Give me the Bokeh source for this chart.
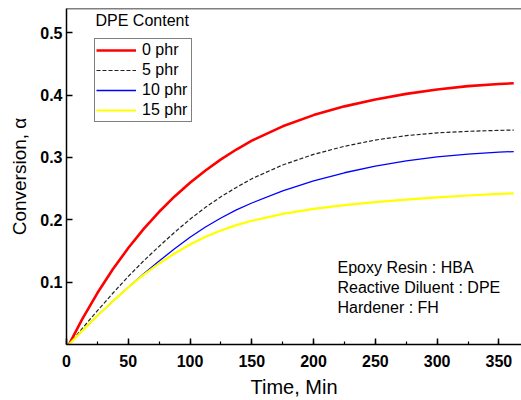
from bokeh.plotting import figure
from bokeh.models import (Range1d, SingleIntervalTicker, FixedTicker, Legend, LegendItem,
                          Label, Span)
from bokeh.embed import file_html
from bokeh.resources import INLINE

# Cure time (min) and degree of conversion for each DPE content
time_min = [2, 12.5, 25, 37.5, 50, 62.5, 75, 87.5, 100, 112.5, 125, 137.5, 150,
            175, 200, 225, 250, 275, 300, 325, 350, 362]
conv_0phr = [0, 0.040, 0.0825, 0.1206, 0.1548, 0.1854, 0.2129, 0.2375, 0.2595, 0.2792, 0.2969,
             0.3128, 0.3270, 0.350, 0.368, 0.382, 0.393, 0.402, 0.409, 0.4145, 0.418, 0.419]
conv_5phr = [0, 0.0252, 0.0542, 0.0822, 0.1092, 0.1342, 0.1575, 0.180, 0.201, 0.220, 0.237,
             0.252, 0.266, 0.288, 0.305, 0.318, 0.328, 0.335, 0.3395, 0.342, 0.3435, 0.344]
conv_10phr = [0, 0.0215, 0.046, 0.0695, 0.092, 0.1135, 0.134, 0.1535, 0.172, 0.1885, 0.203,
              0.216, 0.227, 0.2465, 0.2625, 0.2755, 0.286, 0.2945, 0.301, 0.3055, 0.3085, 0.3095]
conv_15phr = [0, 0.0215, 0.046, 0.0695, 0.0915, 0.112, 0.130, 0.146, 0.1605, 0.173, 0.183,
              0.1915, 0.1985, 0.2095, 0.2175, 0.2235, 0.2285, 0.2325, 0.236, 0.239, 0.2415, 0.2425]

series_labels = ["0 phr", "5 phr", "10 phr", "15 phr"]
y_ticks = [0.1, 0.2, 0.3, 0.4, 0.5]
notes = ["Epoxy Resin : HBA", "Reactive Diluent : DPE", "Hardener : FH"]

FONT = "Liberation Sans"
Y_TOP = 0.539

p = figure(width=521, height=400, output_backend="svg", toolbar_location=None,
           x_range=Range1d(0, 368.3), y_range=Range1d(0, Y_TOP),
           min_border_left=66, min_border_right=0, min_border_top=8, min_border_bottom=51)
p.background_fill_color = "white"
p.border_fill_color = "white"
p.outline_line_color = None
p.xgrid.visible = False
p.ygrid.visible = False

# top edge of the frame
p.add_layout(Span(location=Y_TOP, dimension="width", line_color="black", line_width=1.5))

xa = p.xaxis[0]
xa.ticker = SingleIntervalTicker(interval=50, num_minor_ticks=2)
xa.axis_label = "Time, Min"
ya = p.yaxis[0]
ya.ticker = FixedTicker(ticks=y_ticks)
ya.axis_label = "Conversion, α"

for ax in (xa, ya):
    ax.axis_line_color = "black"
    ax.axis_line_width = 1.5
    ax.major_tick_line_color = "black"
    ax.major_tick_line_width = 1.5
    ax.major_tick_in = 6
    ax.major_tick_out = 0
    ax.minor_tick_line_color = "black"
    ax.minor_tick_line_width = 1.2
    ax.minor_tick_in = 3
    ax.minor_tick_out = 0
    ax.major_label_text_font = FONT
    ax.major_label_text_font_style = "bold"
    ax.major_label_text_font_size = "16px"
    ax.major_label_text_color = "black"
    ax.axis_label_text_font = FONT
    ax.axis_label_text_font_style = "normal"
    ax.axis_label_text_font_size = "20px"
    ax.axis_label_text_color = "black"

ya.minor_tick_line_color = None
ya.major_label_standoff = 4
ya.axis_label_standoff = 7
ya.axis_label_text_font_size = "19px"
xa.major_label_standoff = 10
xa.axis_label_standoff = 6

r0 = p.line(time_min, conv_0phr, line_color="#ff0000", line_width=2.6)
r5 = p.line(time_min, conv_5phr, line_color="#222222", line_width=1.2, line_dash="4 2")
r10 = p.line(time_min, conv_10phr, line_color="#0000ff", line_width=1.3)
r15 = p.line(time_min, conv_15phr, line_color="#ffff00", line_width=2.2)

legend = Legend(items=[LegendItem(label=lab, renderers=[r]) for lab, r in
                       zip(series_labels, [r0, r5, r10, r15])],
                location=(28, 222), orientation="vertical",
                border_line_color="black", border_line_width=1.2,
                background_fill_color="white", background_fill_alpha=1.0,
                label_text_font=FONT, label_text_font_size="16px", label_text_color="black",
                glyph_width=40, glyph_height=20, label_height=20, label_width=48,
                label_standoff=6, spacing=0, padding=1, margin=0)
p.add_layout(legend)

p.add_layout(Label(x=29, y=324, x_units="screen", y_units="screen", text="DPE Content",
                   text_baseline="middle", text_font=FONT, text_font_size="16px",
                   text_color="black"))

for i, note in enumerate(notes):
    p.add_layout(Label(x=271, y=77 - 20 * i, x_units="screen", y_units="screen", text=note,
                       text_baseline="middle", text_font=FONT, text_font_size="16px",
                       text_color="black"))

open("out.html", "w").write(file_html(p, INLINE))
